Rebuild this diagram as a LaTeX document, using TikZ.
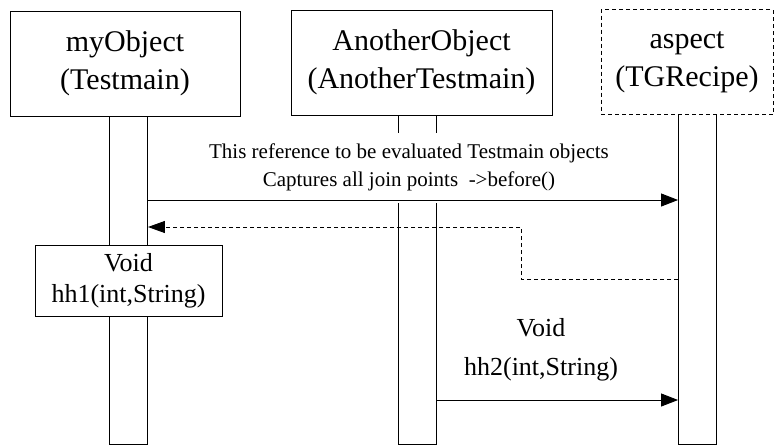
\documentclass[tikz,border=0pt]{standalone}
\usepackage{fontspec}
\setmainfont{Liberation Serif}
\usetikzlibrary{arrows.meta, calc}

\begin{document}
\begin{tikzpicture} [x=1pt, y=-1pt, line width=0.9pt,
  objbox/.style={draw, fill=white, minimum width=#1, minimum height=105, inner sep=0pt, align=center, font=\fontsize{30}{38}\selectfont},
  life/.style={draw, fill=white, minimum width=38, minimum height=#1, inner sep=0pt},
  msg/.style={-{Triangle[length=17pt, width=13pt]}},
  reply/.style={dash pattern=on 4pt off 3pt, -{Triangle[length=17pt, width=12pt]}}]
\def\callY{200};
\def\backY{227};
\def\retY{279};
\def\bendX{521};
\def\hhY{400};
%\draw [help lines, step=10] (0,0) grid (775,445);
\useasboundingbox (0,0) rectangle (775,445);
\node (lifeA) [life=328] at (128.5,280) {};
\node (lifeB) [life=329] at (417,279.5) {};
\node (lifeC) [life=330] at (697.5,279) {};
\node (myObj) [objbox=230] at (125,63.5) {myObject\\(Testmain)};
\node (anotherObj) [objbox=261] at (421.5,62.5) {AnotherObject\\(AnotherTestmain)};
\node (aspect) [objbox=172, dash pattern=on 4pt off 3pt] at (687,62) {aspect\\(TGRecipe)};
\node (hhOne) [draw, fill=white, minimum width=187, minimum height=71, inner sep=0pt, align=center, font=\fontsize{26}{31}\selectfont] at (128.5,280.5) {Void\\hh1(int,String)};
\node (capt) [fill=white, minimum height=70, align=center, font=\fontsize{21}{28}\selectfont] at (409,167.5) {This reference to be evaluated Testmain objects\\Captures all join points\ \ ->before()};
\node (hhTwo) [align=center, font=\fontsize{26}{39}\selectfont] at (541,350) {Void\\hh2(int,String)};
\coordinate (C) at (0,\callY);
\coordinate (B) at (0,\backY);
\coordinate (R) at (0,\retY);
\coordinate (K) at (\bendX,0);
\coordinate (H) at (0,\hhY);
\draw [black, msg] (lifeA.east |- C) -- (lifeC.west |- C);
\draw [black, reply] (lifeC.west |- R) -- (K |- R) -- (K |- B) -- (lifeA.east |- B);
\draw [black, msg] (lifeB.east |- H) -- (lifeC.west |- H);
\end{tikzpicture}
\end{document}
